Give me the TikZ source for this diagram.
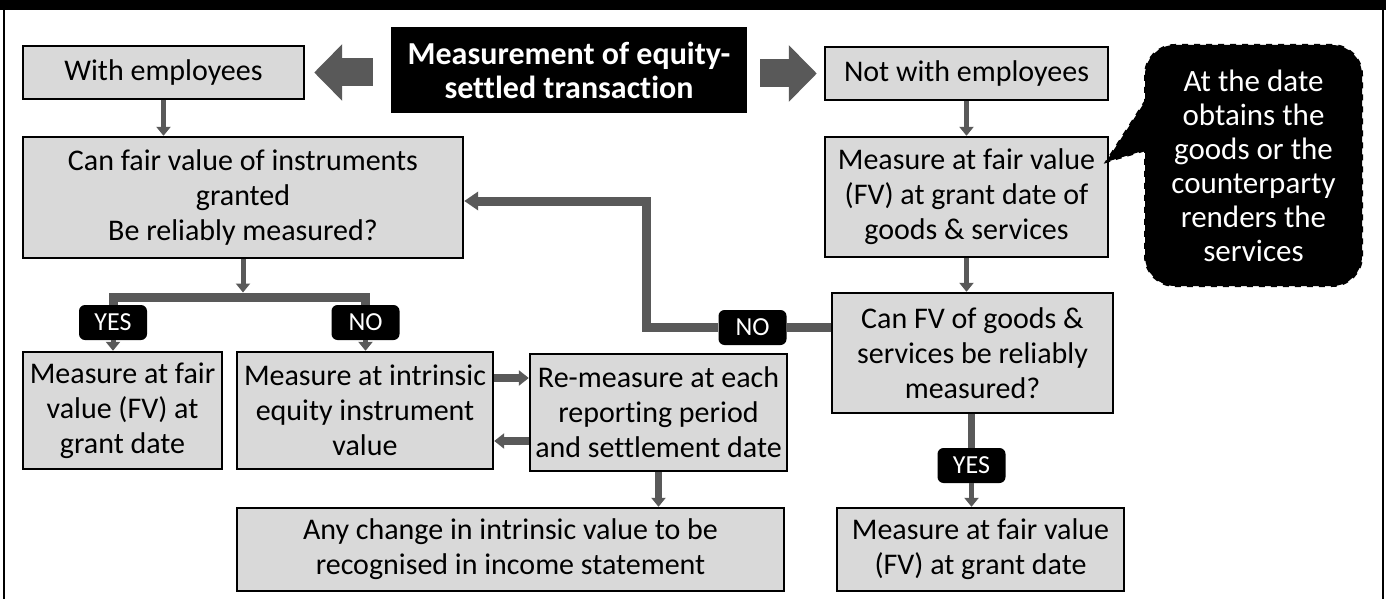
\documentclass[tikz,border=0pt]{standalone}
\usepackage{fontspec}
\setmainfont{Carlito}[Ligatures={NoCommon}, RawFeature={-liga}]
\usepackage{xcolor}
\usetikzlibrary{arrows.meta,calc}
\definecolor{boxgray}{RGB}{217,217,217}
\definecolor{linkgray}{RGB}{89,89,89}

\begin{document}
\begin{tikzpicture}[
        x=0.5pt, y=-0.5pt,
        font=\fontsize{15}{17.5}\selectfont,
        box/.style={draw=black, line width=1.2pt, fill=boxgray, align=center, inner sep=1pt},
        head/.style={fill=black, text=white, align=center,
                     font=\fontsize{16}{17}\selectfont\bfseries},
        note/.style={fill=black, draw=black, dashed, line width=1pt, rounded corners=15pt,
                     text=white, align=center, font=\fontsize{15.5}{17}\selectfont},
        tag/.style={fill=black, text=white, rounded corners=3pt, inner sep=0pt,
                    minimum width=34pt, minimum height=17.5pt, font=\fontsize{13}{14}\selectfont},
        conn/.style={linkgray, line width=2.5pt, -{Triangle[width=7pt,length=4.5pt]}},
        link/.style={linkgray, line width=4.5pt},
        fat/.style={linkgray, line width=14pt, -{Triangle[width=27.5pt,length=14pt]}}
    ]
    \useasboundingbox (0,0) rectangle (1386,599);

    % Frame
    \fill (0,0) rectangle (1386,10);
    \draw[line width=1pt] (4,10) -- (4,599);
    \draw[line width=1pt] (1383,10) -- (1383,599);

    % Top row
    \node[head, minimum width=178pt, minimum height=43pt] (title) at (569,70)
        {Measurement of equity-\\settled transaction};
    \node[box, minimum width=140.5pt, minimum height=26.5pt] (withemp) at (163.5,72.5) {With employees};
    \node[box, minimum width=141.5pt, minimum height=26.5pt] (notemp) at (966.5,73.5) {Not with employees};

    \draw[fat, shorten <=9pt, shorten >=4.5pt] (title.west |- withemp.east) -- (withemp.east);
    \draw[fat, shorten <=6.5pt, shorten >=3.5pt] (title.east |- notemp.west) -- (notemp.west);

    % Employees branch
    \node[box, minimum width=220pt, minimum height=60.5pt] (canfair) at (243,197.5)
        {Can fair value of instruments\\granted\\Be reliably measured?};
    \node[box, minimum width=99.5pt, minimum height=58.5pt] (fairleft) at (122.5,410.5)
        {Measure at fair\\value (FV) at\\grant date};
    \node[box, minimum width=128pt, minimum height=58.5pt] (intrinsic) at (365,410.5)
        {Measure at intrinsic\\equity instrument\\value};
    \node[box, minimum width=128.5pt, minimum height=58.5pt] (remeasure) at (658.5,412.5)
        {Re-measure at each\\reporting period\\and settlement date};
    \node[box, minimum width=273.5pt, minimum height=41.5pt] (change) at (510.5,549.5)
        {Any change in intrinsic value to be\\recognised in income statement};
    \node[tag] (yes1) at (113,322.5) {YES};
    \node[tag] (no1)  at (365.5,322.5) {NO};

    % Non-employees branch
    \node[box, minimum width=141.5pt, minimum height=60pt] (fvgoods) at (966.5,197)
        {Measure at fair value\\(FV) at grant date of\\goods \& services};
    \node[box, minimum width=140.5pt, minimum height=60pt] (canfv) at (972.5,353)
        {Can FV of goods \&\\services be reliably\\measured?};
    \node[box, minimum width=143.5pt, minimum height=41.5pt] (fairright) at (980.5,549.5)
        {Measure at fair value\\(FV) at grant date};
    \node[tag] (no2)  at (752.5,327.5) {NO};
    \node[tag] (yes2) at (971.5,465.5) {YES};

    % Callout
    \node[note, minimum width=108.5pt, minimum height=120.5pt] (when) at (1253.5,165.5)
        {At the date\\obtains the\\goods or the\\counterparty\\renders the\\services};
    \draw[fill=black, dashed, line width=1pt]
        ($(when.west)+(2,-65.5)$) -- ($(when.west)+(-38,-3.5)$) -- ($(when.west)+(2,-15.5)$);

    % Connectors
    \coordinate (split) at (240,297);
    \coordinate (back) at (646,201);
    \draw[conn] (withemp.south) -- (withemp.south |- canfair.north);
    \draw[link] (yes1.north) |- (split) -| (no1.north);
    \draw[conn, shorten >=2.25pt] (canfair.south) -- (canfair.south |- split);
    \draw[conn] (yes1.south) -- (yes1.south |- fairleft.north);
    \draw[conn] (no1.south) -- (no1.south |- intrinsic.north);
    \draw[conn, line width=4pt, -{Triangle[width=7.5pt,length=5pt]}]
        ([yshift=16.25pt]intrinsic.east) -- ([yshift=16.25pt]intrinsic.east -| remeasure.west);
    \draw[conn, line width=4pt, -{Triangle[width=7.5pt,length=5pt]}]
        ([yshift=-14.25pt]remeasure.west) -- ([yshift=-14.25pt]remeasure.west -| intrinsic.east);
    \draw[conn, line width=3.5pt] (remeasure.south) -- (remeasure.south |- change.north);

    \draw[conn] (notemp.south) -- (notemp.south |- fvgoods.north);
    \draw[conn] (fvgoods.south) -- (fvgoods.south |- canfv.north);
    \draw[link] (canfv.west |- no2.east) -- (no2.east);
    \draw[link, -{Triangle[width=9pt,length=7pt]}] (no2.west) -| (back) -- (back -| canfair.east);
    \draw[linkgray, line width=3.5pt] (yes2.north |- canfv.south) -- (yes2.north);
    \draw[conn] (yes2.south) -- (yes2.south |- fairright.north);
\end{tikzpicture}
\end{document}
